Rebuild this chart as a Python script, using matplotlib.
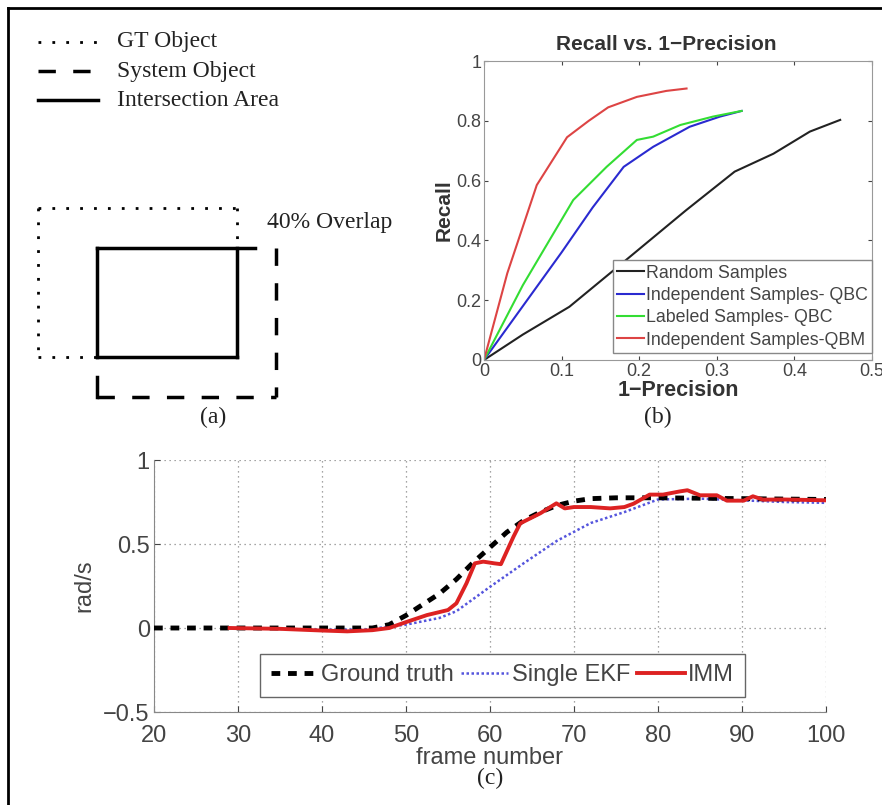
import matplotlib
matplotlib.use("Agg")
import matplotlib.pyplot as plt

# ---------------- data: panel (b) ----------------
b_labels = ["Random Samples", "Independent Samples- QBC",
            "Labeled Samples- QBC", "Independent Samples-QBM"]
b_colors = ["#222222", "#2a2ad0", "#33dd33", "#dd4444"]
rand_x = [0, 0.05, 0.11, 0.167, 0.26, 0.323, 0.373, 0.42, 0.459]
rand_y = [0, 0.085, 0.178, 0.30, 0.50, 0.63, 0.69, 0.764, 0.803]
iqbc_x = [0, 0.05, 0.10, 0.14, 0.18, 0.218, 0.265, 0.304, 0.332]
iqbc_y = [0, 0.18, 0.36, 0.51, 0.646, 0.713, 0.78, 0.814, 0.833]
lqbc_x = [0, 0.05, 0.115, 0.158, 0.197, 0.218, 0.253, 0.295, 0.332]
lqbc_y = [0, 0.25, 0.535, 0.646, 0.736, 0.747, 0.786, 0.814, 0.833]
qbm_x = [0, 0.03, 0.068, 0.107, 0.135, 0.16, 0.197, 0.235, 0.261]
qbm_y = [0, 0.29, 0.585, 0.745, 0.80, 0.845, 0.88, 0.90, 0.908]
b_xticks = [0, 0.1, 0.2, 0.3, 0.4, 0.5]
b_xticklabels = ["0", "0.1", "0.2", "0.3", "0.4", "0.5"]
b_yticks = [0, 0.2, 0.4, 0.6, 0.8, 1.0]
b_yticklabels = ["0", "0.2", "0.4", "0.6", "0.8", "1"]

# ---------------- data: panel (c) ----------------
c_labels = ["Ground truth", "Single EKF", "IMM"]
gt_f = [20, 46, 48, 50, 52, 54, 56, 58, 60, 62, 64, 66, 68, 70, 72, 75, 80, 90, 100]
gt_v = [0, 0, 0.02, 0.075, 0.14, 0.205, 0.29, 0.39, 0.48, 0.57, 0.64, 0.69, 0.73,
        0.755, 0.77, 0.775, 0.775, 0.77, 0.765]
ekf_f = [29, 40, 45, 50, 54, 56, 60, 64, 68, 72, 76, 80, 85, 90, 95, 100]
ekf_v = [0, -0.01, -0.01, 0.02, 0.06, 0.10, 0.245, 0.385, 0.52, 0.625, 0.69, 0.765,
         0.77, 0.76, 0.75, 0.745]
imm_f = [29, 35, 40, 43, 46, 48, 50, 52.5, 55, 56, 57.2, 58.2, 59.2, 60.5, 61.3, 62.8,
         63.6, 66, 67.9, 68.9, 70, 72, 74.3, 76, 77.1, 79, 80.6, 82.6, 83.5, 85, 87,
         88.2, 90.2, 91.3, 92.5, 95, 100]
imm_v = [0, -0.005, -0.015, -0.02, -0.013, 0.0, 0.035, 0.077, 0.107, 0.147, 0.266,
         0.385, 0.395, 0.385, 0.38, 0.544, 0.623, 0.683, 0.742, 0.712, 0.72, 0.72,
         0.712, 0.72, 0.74, 0.794, 0.794, 0.813, 0.82, 0.79, 0.79, 0.758, 0.758,
         0.784, 0.764, 0.765, 0.76]
c_xticks = [20, 30, 40, 50, 60, 70, 80, 90, 100]
c_yticks = [-0.5, 0, 0.5, 1]
c_yticklabels = ["\u22120.5", "0", "0.5", "1"]

# ---------------- data: panel (a) legend ----------------
a_labels = ["GT Object", "System Object", "Intersection Area"]

W, H = 882, 805
fig = plt.figure(figsize=(W / 100, H / 100), dpi=100)
sans = ["Liberation Sans", "DejaVu Sans"]
serif = ["Liberation Serif", "DejaVu Serif"]
plt.rcParams["font.family"] = sans


def fx(px):
    return px / W


def fy(py):
    return 1 - py / H


# background axes in pixel coordinates for schematic, border, panel captions
bg = fig.add_axes([0, 0, 1, 1])
bg.set_xlim(0, W)
bg.set_ylim(H, 0)
bg.axis("off")

# border (top and left visible)
bg.plot([8, 8], [H, 8], color="black", lw=2)
bg.plot([8, W], [8, 8], color="black", lw=2)

# panel (a) legend
legend_styles = [dict(ls=(0, (1, 4)), lw=2), dict(ls=(0, (5, 5)), lw=2.5), dict(ls="-", lw=2.5)]
for i, (lab, st) in enumerate(zip(a_labels, legend_styles)):
    yy = 42 + i * 29
    bg.plot([38, 98], [yy, yy], color="black", **st)
    bg.text(117, yy, lab, family=serif, fontsize=17, va="center", ha="left", color="#222222")

# panel (a) schematic
dot = dict(color="black", lw=2, ls=(0, (1, 4)))
bg.plot([38, 237], [208, 208], **dot)
bg.plot([38, 38], [208, 357], **dot)
bg.plot([38, 97], [357, 357], **dot)
bg.plot([237, 237], [208, 248], **dot)
solid = dict(color="black", lw=2.5)
bg.plot([97, 255], [248, 248], **solid)
bg.plot([97, 97], [248, 357], **solid)
bg.plot([237, 237], [248, 357], **solid)
bg.plot([97, 237], [357, 357], **solid)
dash = dict(color="black", lw=2.5, ls=(0, (5, 5)))
bg.plot([276, 276], [248, 397], **dash)
bg.plot([97, 276], [397, 397], **dash)
bg.plot([97, 97], [377, 397], color="black", lw=2.5)
bg.text(267, 222, "40% Overlap", family=serif, fontsize=17, va="center", ha="left", color="#222222")
bg.text(213, 417, "(a)", family=serif, fontsize=17, va="center", ha="center", color="#222222")
bg.text(658, 417, "(b)", family=serif, fontsize=17, va="center", ha="center", color="#222222")
bg.text(490, 778, "(c)", family=serif, fontsize=17, va="center", ha="center", color="#222222")

# ---------------- panel (b) ----------------
axb = fig.add_axes([fx(484), fy(360), fx(872) - fx(484), fy(61) - fy(360)])
for xs, ys, lab, col in zip([rand_x, iqbc_x, lqbc_x, qbm_x], [rand_y, iqbc_y, lqbc_y, qbm_y],
                            b_labels, b_colors):
    axb.plot(xs, ys, color=col, lw=1.5, label=lab)
axb.set_xlim(0, 0.5)
axb.set_ylim(0, 1)
axb.set_xticks(b_xticks)
axb.set_xticklabels(b_xticklabels)
axb.set_yticks(b_yticks)
axb.set_yticklabels(b_yticklabels)
axb.tick_params(labelsize=13, colors="#444444", direction="in", length=3,
                top=True, right=True, pad=2)
for s in axb.spines.values():
    s.set_color("#999999")
axb.set_title("Recall vs. 1\u2212Precision", fontsize=15, fontweight="bold", color="#333333",
              pad=8, x=0.47)
axb.set_ylabel("Recall", fontsize=15, fontweight="bold", color="#333333", labelpad=2)
axb.set_xlabel("1\u2212Precision", fontsize=15.5, fontweight="bold", color="#333333", labelpad=0)
lb = axb.legend(loc="lower right", bbox_to_anchor=(1.0, 0.023), fontsize=12.8,
                handlelength=1.5, handletextpad=0.1, borderpad=0.25, labelspacing=0.3,
                fancybox=False, framealpha=1, borderaxespad=0)
lb.get_frame().set_edgecolor("#888888")
for t in lb.get_texts():
    t.set_color("#444444")

# ---------------- panel (c) ----------------
axc = fig.add_axes([fx(154), fy(712), fx(826) - fx(154), fy(460) - fy(712)])
axc.plot(gt_f, gt_v, color="black", lw=3.5, ls=(0, (1.8, 1.6)), label=c_labels[0], zorder=3)
axc.plot(ekf_f, ekf_v, color="#5555dd", lw=1.8, ls=(0, (1, 1)), label=c_labels[1], zorder=2)
axc.plot(imm_f, imm_v, color="#dd2222", lw=2.8, label=c_labels[2], zorder=4)
axc.set_xlim(20, 100)
axc.set_ylim(-0.5, 1)
axc.set_xticks(c_xticks)
axc.set_yticks(c_yticks)
axc.set_yticklabels(c_yticklabels)
axc.grid(True, ls=(0, (1, 3)), color="#888888", lw=0.9)
axc.tick_params(labelsize=17, colors="#444444", direction="in", length=4)
axc.tick_params(axis="x", pad=9)
axc.tick_params(axis="y", pad=3)
for s in axc.spines.values():
    s.set_color("#888888")
axc.spines["top"].set_visible(False)
axc.spines["right"].set_visible(False)
axc.set_xlabel("frame number", fontsize=17, color="#444444", labelpad=0)
axc.set_ylabel("rad/s", fontsize=17, color="#444444", labelpad=6)
lc = axc.legend(loc="lower left", bbox_to_anchor=((260 - 154) / (826 - 154), 0.06),
                ncol=3, fontsize=17, handlelength=2.0, handletextpad=0.15,
                columnspacing=0.3, borderpad=0.45, fancybox=False, framealpha=1,
                borderaxespad=0)
lc.get_frame().set_edgecolor("#666666")
for t in lc.get_texts():
    t.set_color("#444444")

fig.savefig("out.png", dpi=100)
